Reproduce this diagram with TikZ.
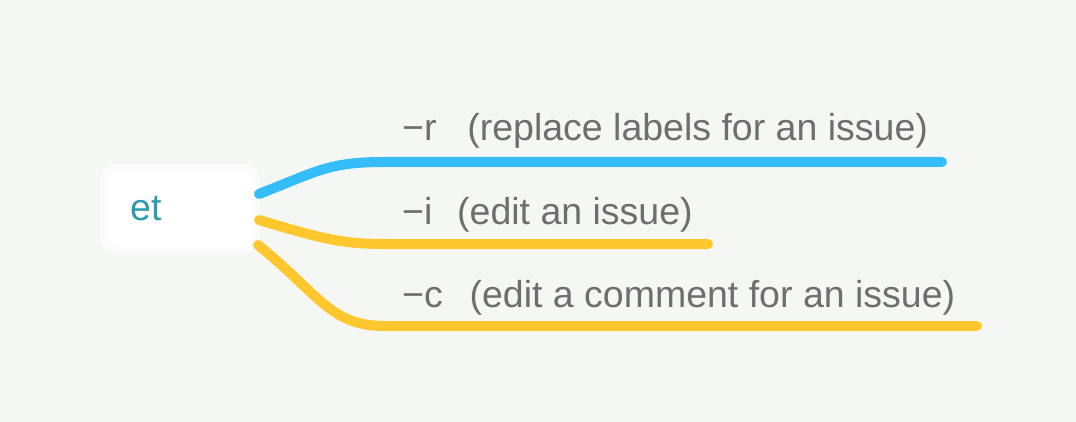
\documentclass[tikz,border=0pt]{standalone}
\usepackage{fontspec}
\setmainfont{Liberation Sans}
\definecolor{bg}{HTML}{F5F7F4}
\definecolor{blueb}{HTML}{35BDF9}
\definecolor{yellowb}{HTML}{FFC72E}
\definecolor{labelc}{HTML}{6E6E6E}
\definecolor{rootc}{HTML}{2E9AAE}
\definecolor{rootedge}{HTML}{FAFBFA}
\begin{document}
\begin{tikzpicture}[x=1pt,y=-1pt,
  branch/.style={line width=10pt,line cap=round},
  lbl/.style={anchor=base west,inner sep=0pt,text=labelc,font=\fontsize{37.5}{42}\selectfont},
  rootbox/.style={draw=rootedge,line width=6pt,fill=white,rounded corners=14pt,minimum width=154pt,minimum height=84pt,inner sep=0pt}]
\fill[bg] (0,0) rectangle (1076,422);
\useasboundingbox (0,0) rectangle (1076,422);
\node[rootbox] (root) at (180,208.5) {};
\node[anchor=base west,inner sep=0pt,text=rootc,font=\fontsize{37.5}{42}\selectfont] (roottext) at (130,221) {et};
\coordinate (s1) at (259,194);
\coordinate (s2) at (259,220);
\coordinate (s3) at (258,245);
\coordinate (e1) at (942,162);
\coordinate (e2) at (708,244);
\coordinate (e3) at (977,326);
\draw[branch,blueb] (s1) .. controls (320,170) and (330,162) .. (385,162) -- (e1);
\draw[branch,yellowb] (s2) .. controls (320,238) and (340,244) .. (385,244) -- (e2);
\draw[branch,yellowb] (s3) .. controls (320,295) and (330,326) .. (385,326) -- (e3);
\node[lbl] (l1) at (402,141) {−r\hspace{0.5em}\hspace{12pt}(replace labels for an issue)};
\node[lbl] (l2) at (402,225) {−i\hspace{0.5em}\hspace{6pt}(edit an issue)};
\node[lbl] (l3) at (402,307) {−c\hspace{0.5em}\hspace{8pt}(edit a comment for an issue)};
\end{tikzpicture}
\end{document}
